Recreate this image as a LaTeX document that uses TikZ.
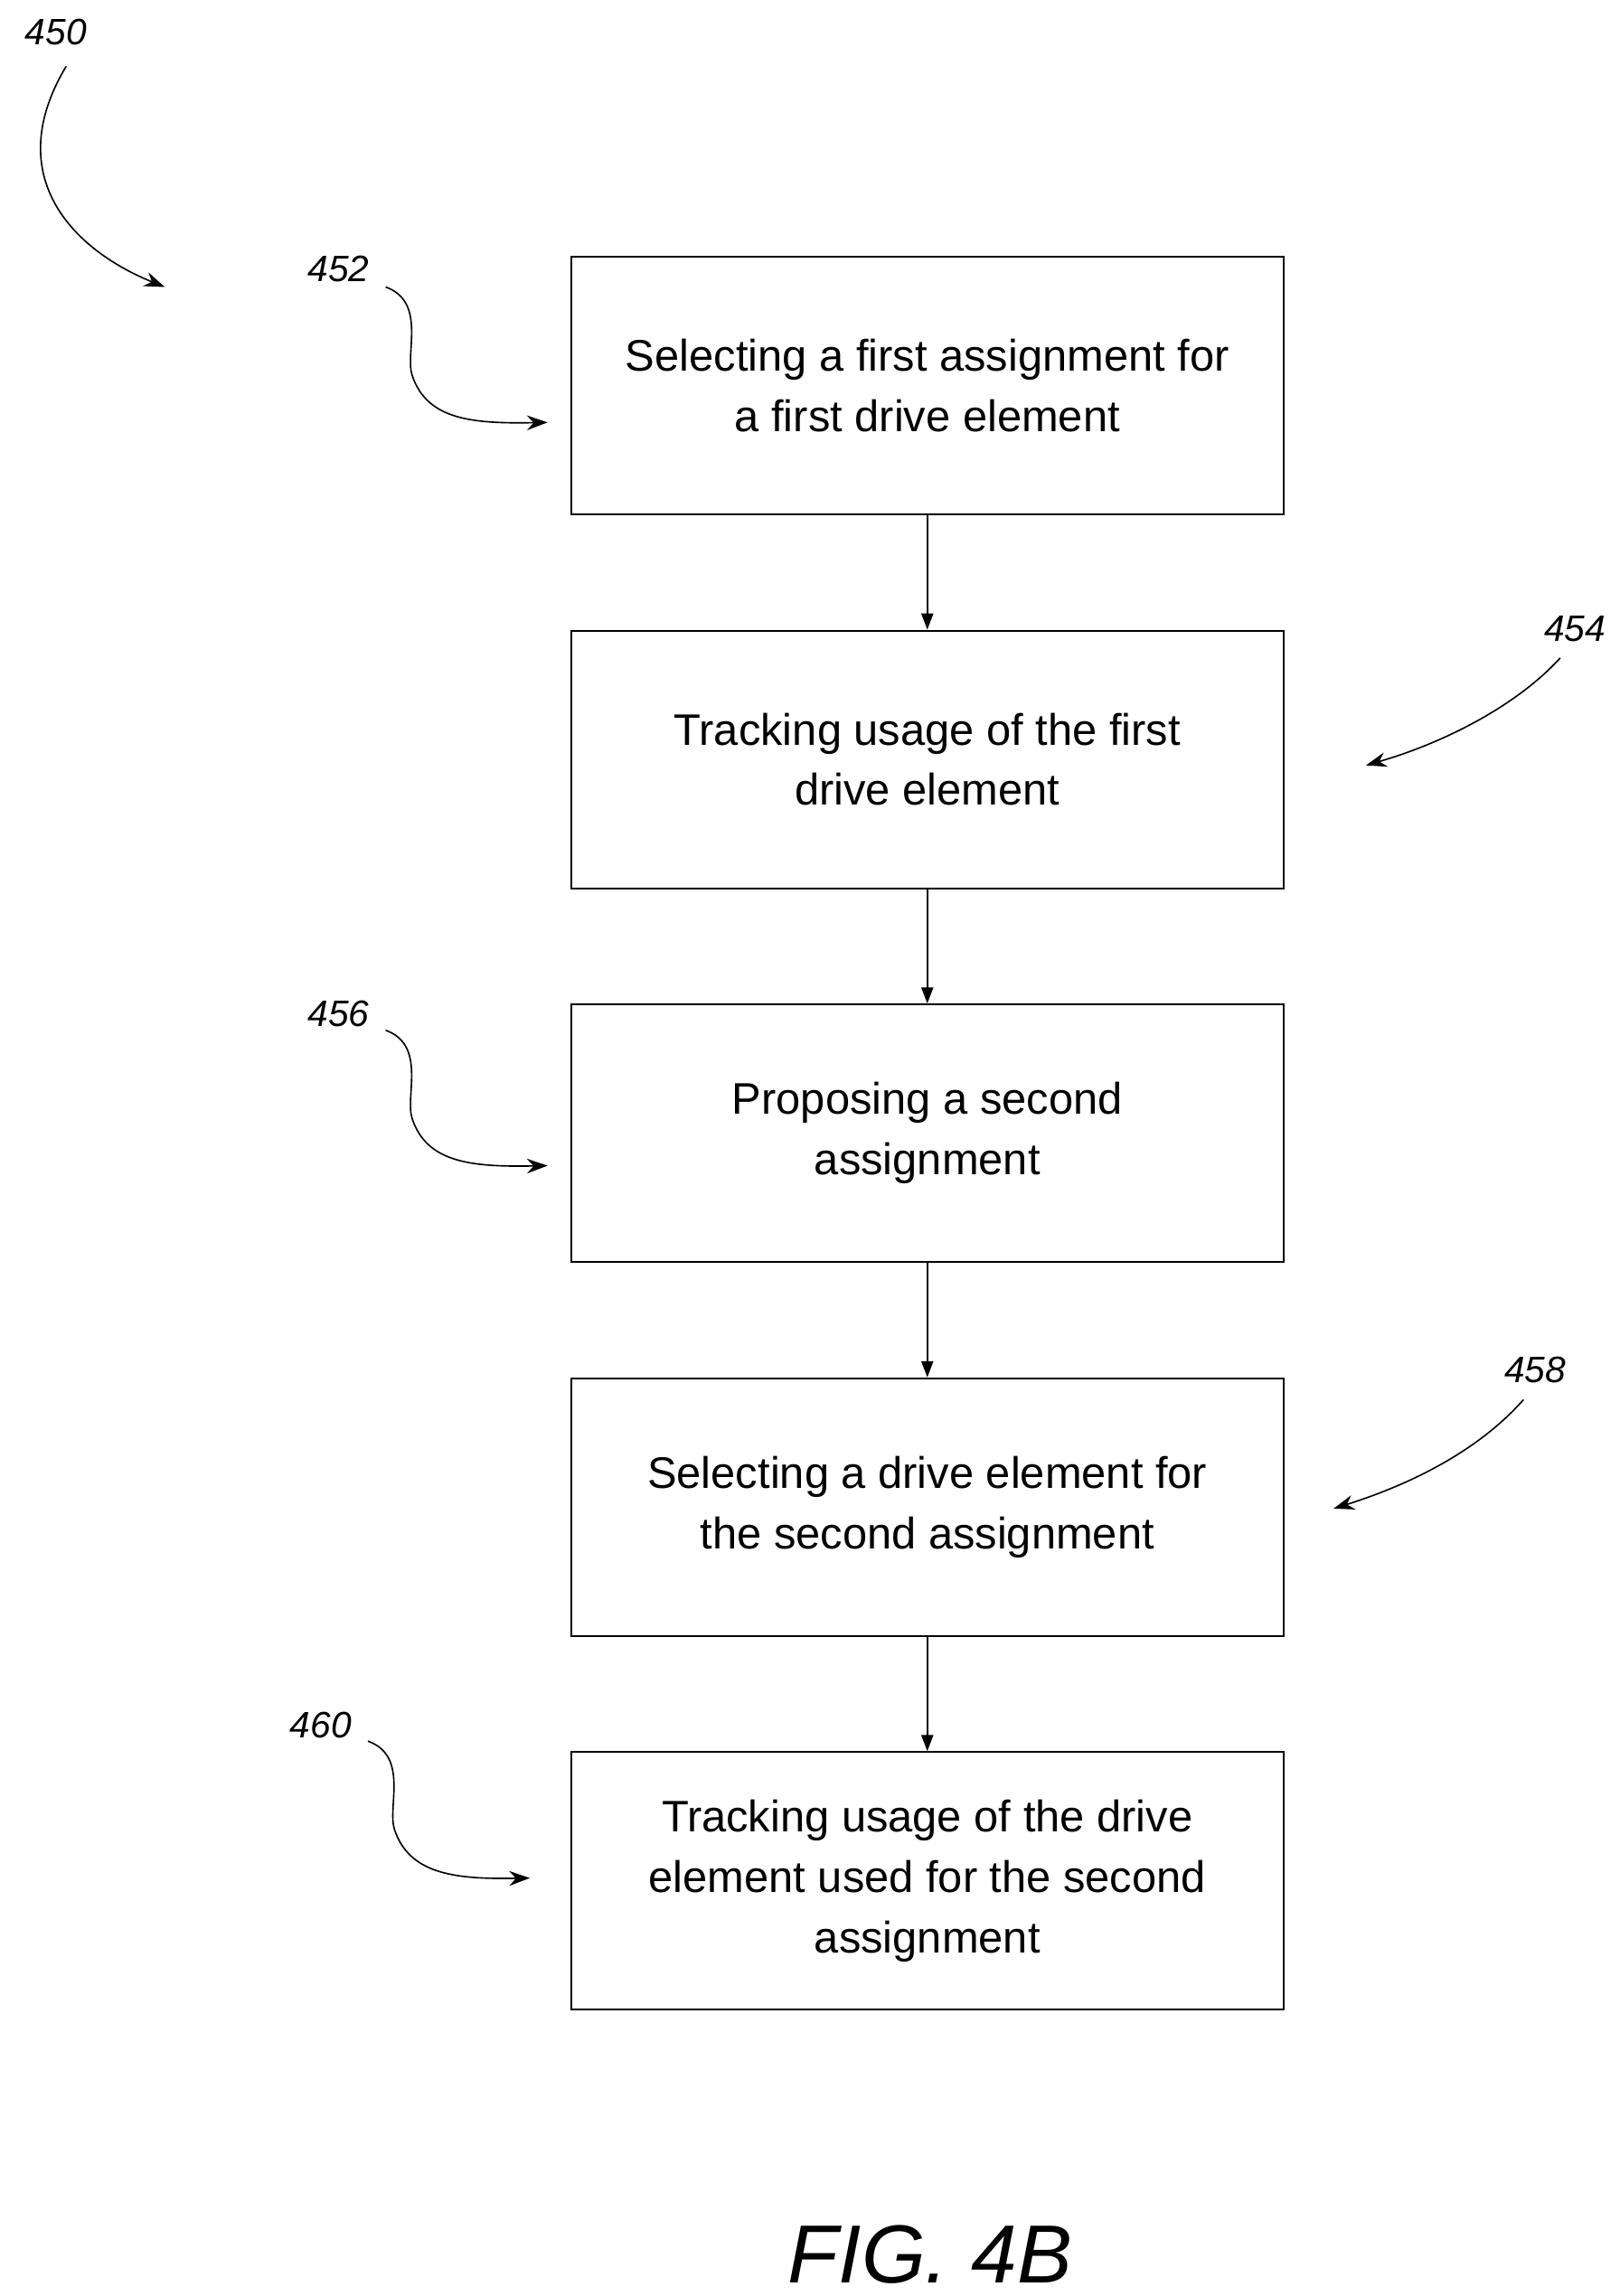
\documentclass[tikz,border=0pt]{standalone}
\usepackage{fontspec}
\setmainfont{Liberation Sans}
\usetikzlibrary{arrows.meta}
\begin{document}
\begin{tikzpicture}[x=1pt,y=-1pt,
 box/.style={draw,line width=1.3pt,minimum width=484pt,minimum height=175pt,align=center,font=\fontsize{30}{41}\selectfont,inner sep=0pt},
 lab/.style={font=\itshape\fontsize{25}{28}\selectfont},
 flow/.style={-{Triangle[length=11pt,width=8pt]},line width=1.3pt},
 lead/.style={-{Stealth[length=14pt,width=10pt]},line width=1pt}]
\useasboundingbox (0,0) rectangle (1100,1560);
\node[box] (b1) at (630,262) {Selecting a first assignment for\\a first drive element};
\node[box] (b2) at (630,516) {Tracking usage of the first\\drive element};
\node[box] (b3) at (630,770) {Proposing a second\\assignment};
\node[box] (b4) at (630,1024) {Selecting a drive element for\\the second assignment};
\node[box] (b5) at (630,1278) {Tracking usage of the drive\\element used for the second\\assignment};
\draw[flow] (b1) -- (b2);
\draw[flow] (b2) -- (b3);
\draw[flow] (b3) -- (b4);
\draw[flow] (b4) -- (b5);
\node[lab] (l450) at (38,22) {450};
\node[lab] (l452) at (230,183) {452};
\node[lab] (l454) at (1070,427) {454};
\node[lab] (l456) at (230,689) {456};
\node[lab] (l458) at (1043,931) {458};
\node[lab] (l460) at (218,1172) {460};
\coordinate (e450) at (112,195);
\coordinate (e452) at (372,287);
\coordinate (e454) at (928,520);
\coordinate (e456) at (372,792);
\coordinate (e458) at (906,1025);
\coordinate (e460) at (360,1276);
\draw[lead] (45,45) .. controls (0,120) and (50,170) .. (e450);
\draw[lead] (262,195) .. controls (290,205) and (275,240) .. (280,255) .. controls (290,285) and (320,288) .. (e452);
\draw[lead] (262,700) .. controls (290,710) and (275,745) .. (280,760) .. controls (290,790) and (320,793) .. (e456);
\draw[lead] (250,1183) .. controls (278,1193) and (263,1228) .. (268,1243) .. controls (278,1273) and (308,1277) .. (e460);
\draw[lead] (1060,447) .. controls (1030,480) and (980,505) .. (e454);
\draw[lead] (1035,951) .. controls (1005,985) and (960,1008) .. (e458);
\node[font=\itshape\fontsize{56}{60}\selectfont] (fig) at (632,1532) {FIG. 4B};
\end{tikzpicture}
\end{document}
